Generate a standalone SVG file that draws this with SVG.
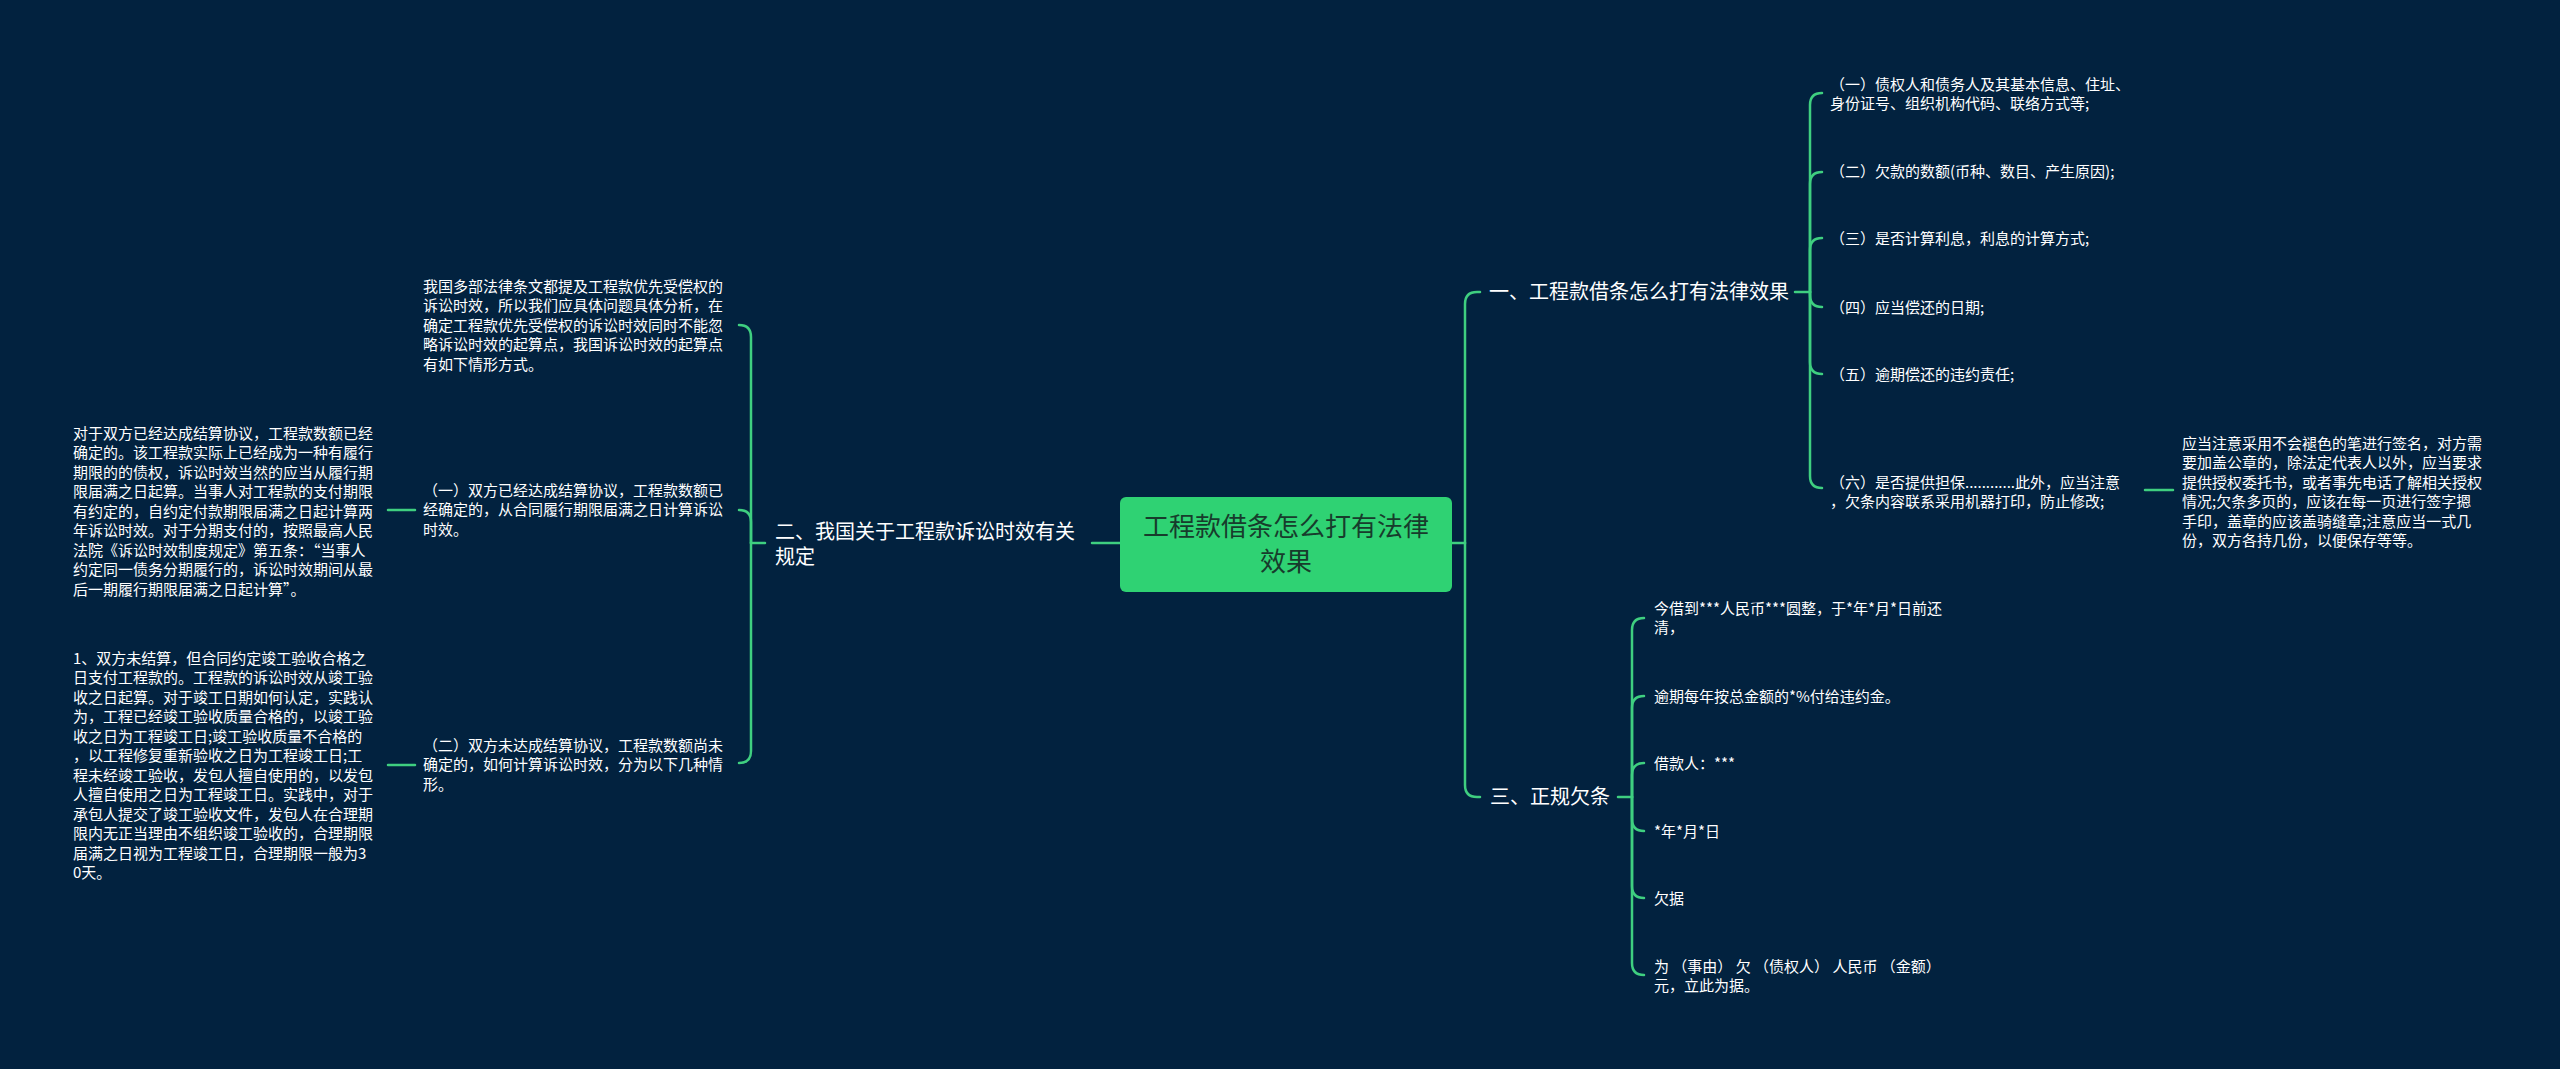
<svg xmlns="http://www.w3.org/2000/svg" width="2560" height="1069" viewBox="0 0 2560 1069">
<style>
text{font-family:"Noto Sans CJK SC","Noto Sans",sans-serif;fill:#ffffff}
.s{font-size:15px}
.m{font-size:20px}
.c{font-size:26px;fill:#173c2c}
.ln{fill:none;stroke:#3fcf80;stroke-width:2.5;stroke-linecap:round}
</style>
<rect x="0" y="0" width="2560" height="1069" fill="#02223f"/>
<g id="connectors">
<path class="ln" d="M1092,543 H1120"/>
<path class="ln" d="M751,543 H765"/>
<path class="ln" d="M751,543 V337 Q751,325 739,325"/>
<path class="ln" d="M751,543 V522 Q751,510 739,510"/>
<path class="ln" d="M751,543 V751 Q751,763 739,763"/>
<path class="ln" d="M415,510 H388"/>
<path class="ln" d="M415,765 H388"/>
<path class="ln" d="M1452,543 H1465"/>
<path class="ln" d="M1465,543 V304 Q1465,292 1477,292 H1480"/>
<path class="ln" d="M1465,543 V785 Q1465,797 1477,797 H1480"/>
<path class="ln" d="M1795,292 H1810"/>
<path class="ln" d="M1810,292 V105 Q1810,93 1822,93"/>
<path class="ln" d="M1810,292 V184 Q1810,172 1822,172"/>
<path class="ln" d="M1810,292 V250 Q1810,238 1822,238"/>
<path class="ln" d="M1810,292 V295 Q1810,307 1822,307"/>
<path class="ln" d="M1810,292 V362 Q1810,374 1822,374"/>
<path class="ln" d="M1810,292 V476 Q1810,488 1822,488"/>
<path class="ln" d="M2145,490 H2173"/>
<path class="ln" d="M1618,797 H1632"/>
<path class="ln" d="M1632,797 V630 Q1632,618 1644,618"/>
<path class="ln" d="M1632,797 V708 Q1632,696 1644,696"/>
<path class="ln" d="M1632,797 V775 Q1632,763 1644,763"/>
<path class="ln" d="M1632,797 V819 Q1632,831 1644,831"/>
<path class="ln" d="M1632,797 V886 Q1632,898 1644,898"/>
<path class="ln" d="M1632,797 V963 Q1632,975 1644,975"/>
</g>
<g id="root">
<rect x="1120" y="497" width="332" height="95" rx="6" fill="#2fd273"/>
<text class="c" text-anchor="middle"><tspan x="1286" y="536">工程款借条怎么打有法律</tspan><tspan x="1286" y="571">效果</tspan></text>
</g>
<g id="n2">
<text class="m"><tspan x="775" y="539">二、我国关于工程款诉讼时效有关</tspan><tspan x="775" y="564">规定</tspan></text>
</g>
<g id="n2-1">
<text class="s"><tspan x="423" y="291.5">我国多部法律条文都提及工程款优先受偿权的</tspan><tspan x="423" dy="19.5">诉讼时效，所以我们应具体问题具体分析，在</tspan><tspan x="423" dy="19.5">确定工程款优先受偿权的诉讼时效同时不能忽</tspan><tspan x="423" dy="19.5">略诉讼时效的起算点，我国诉讼时效的起算点</tspan><tspan x="423" dy="19.5">有如下情形方式。</tspan></text>
</g>
<g id="n2-2">
<text class="s"><tspan x="423" y="495.5">（一）双方已经达成结算协议，工程款数额已</tspan><tspan x="423" dy="19.5">经确定的，从合同履行期限届满之日计算诉讼</tspan><tspan x="423" dy="19.5">时效。</tspan></text>
</g>
<g id="n2-2-1">
<text class="s"><tspan x="73" y="438.5">对于双方已经达成结算协议，工程款数额已经</tspan><tspan x="73" dy="19.5">确定的。该工程款实际上已经成为一种有履行</tspan><tspan x="73" dy="19.5">期限的的债权，诉讼时效当然的应当从履行期</tspan><tspan x="73" dy="19.5">限届满之日起算。当事人对工程款的支付期限</tspan><tspan x="73" dy="19.5">有约定的，自约定付款期限届满之日起计算两</tspan><tspan x="73" dy="19.5">年诉讼时效。对于分期支付的，按照最高人民</tspan><tspan x="73" dy="19.5">法院《诉讼时效制度规定》第五条：“当事人</tspan><tspan x="73" dy="19.5">约定同一债务分期履行的，诉讼时效期间从最</tspan><tspan x="73" dy="19.5">后一期履行期限届满之日起计算”。</tspan></text>
</g>
<g id="n2-3">
<text class="s"><tspan x="423" y="750.5">（二）双方未达成结算协议，工程款数额尚未</tspan><tspan x="423" dy="19.5">确定的，如何计算诉讼时效，分为以下几种情</tspan><tspan x="423" dy="19.5">形。</tspan></text>
</g>
<g id="n2-3-1">
<text class="s"><tspan x="73" y="663.5">1、双方未结算，但合同约定竣工验收合格之</tspan><tspan x="73" dy="19.5">日支付工程款的。工程款的诉讼时效从竣工验</tspan><tspan x="73" dy="19.5">收之日起算。对于竣工日期如何认定，实践认</tspan><tspan x="73" dy="19.5">为，工程已经竣工验收质量合格的，以竣工验</tspan><tspan x="73" dy="19.5">收之日为工程竣工日;竣工验收质量不合格的</tspan><tspan x="73" dy="19.5">，以工程修复重新验收之日为工程竣工日;工</tspan><tspan x="73" dy="19.5">程未经竣工验收，发包人擅自使用的，以发包</tspan><tspan x="73" dy="19.5">人擅自使用之日为工程竣工日。实践中，对于</tspan><tspan x="73" dy="19.5">承包人提交了竣工验收文件，发包人在合理期</tspan><tspan x="73" dy="19.5">限内无正当理由不组织竣工验收的，合理期限</tspan><tspan x="73" dy="19.5">届满之日视为工程竣工日，合理期限一般为3</tspan><tspan x="73" dy="19.5">0天。</tspan></text>
</g>
<g id="n1">
<text class="m" x="1489" y="299">一、工程款借条怎么打有法律效果</text>
</g>
<g id="n1-1">
<text class="s"><tspan x="1830" y="89.5">（一）债权人和债务人及其基本信息、住址、</tspan><tspan x="1830" dy="19.5">身份证号、组织机构代码、联络方式等;</tspan></text>
</g>
<g id="n1-2"><text class="s" x="1830" y="177">（二）欠款的数额(币种、数目、产生原因);</text></g>
<g id="n1-3"><text class="s" x="1830" y="243.5">（三）是否计算利息，利息的计算方式;</text></g>
<g id="n1-4"><text class="s" x="1830" y="312.5">（四）应当偿还的日期;</text></g>
<g id="n1-5"><text class="s" x="1830" y="379.5">（五）逾期偿还的违约责任;</text></g>
<g id="n1-6">
<text class="s"><tspan x="1830" y="487.5">（六）是否提供担保............此外，应当注意</tspan><tspan x="1830" dy="19.5">，欠条内容联系采用机器打印，防止修改;</tspan></text>
</g>
<g id="n1-6-1">
<text class="s"><tspan x="2182" y="448.5">应当注意采用不会褪色的笔进行签名，对方需</tspan><tspan x="2182" dy="19.5">要加盖公章的，除法定代表人以外，应当要求</tspan><tspan x="2182" dy="19.5">提供授权委托书，或者事先电话了解相关授权</tspan><tspan x="2182" dy="19.5">情况;欠条多页的，应该在每一页进行签字摁</tspan><tspan x="2182" dy="19.5">手印，盖章的应该盖骑缝章;注意应当一式几</tspan><tspan x="2182" dy="19.5">份，双方各持几份，以便保存等等。</tspan></text>
</g>
<g id="n3">
<text class="m" x="1490" y="804">三、正规欠条</text>
</g>
<g id="n3-1">
<text class="s"><tspan x="1654" y="613.5">今借到***人民币***圆整，于*年*月*日前还</tspan><tspan x="1654" dy="19.5">清，</tspan></text>
</g>
<g id="n3-2"><text class="s" x="1654" y="701.5">逾期每年按总金额的*%付给违约金。</text></g>
<g id="n3-3"><text class="s" x="1654" y="768.5">借款人：***</text></g>
<g id="n3-4"><text class="s" x="1654" y="836.5">*年*月*日</text></g>
<g id="n3-5"><text class="s" x="1654" y="903.5">欠据</text></g>
<g id="n3-6">
<text class="s"><tspan x="1654" y="971.5">为 （事由） 欠 （债权人） 人民币 （金额）</tspan><tspan x="1654" dy="19.5">元，立此为据。</tspan></text>
</g>
</svg>
